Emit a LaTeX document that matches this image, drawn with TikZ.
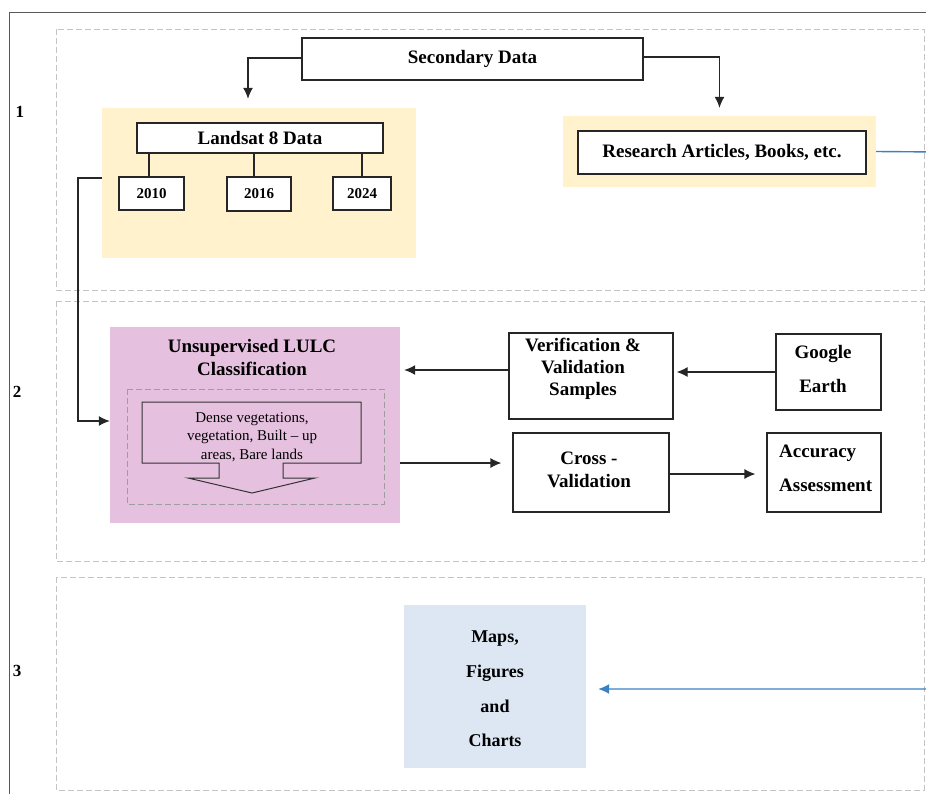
\documentclass[tikz,border=0pt]{standalone}
\usepackage{fontspec}
\setmainfont{Liberation Serif}
\usetikzlibrary{arrows.meta,calc}
\definecolor{ybg}{HTML}{FFF2CC}
\definecolor{pbg}{HTML}{E6C1DF}
\definecolor{bbg}{HTML}{DDE7F3}
\definecolor{dgray}{HTML}{C4C4C4}
\definecolor{igray}{HTML}{9E9E9E}
\definecolor{lblue}{HTML}{3A80C4}
\begin{document}
\begin{tikzpicture}[x=1pt,y=-1pt,
  box/.style={draw=black!85, line width=1.2pt, inner sep=0pt},
  bg/.style={inner sep=0pt, draw=none},
  bigtxt/.style={font=\fontsize{19}{23}\selectfont\bfseries, align=center, inner sep=0pt},
  yeartxt/.style={font=\fontsize{15}{18}\selectfont\bfseries},
  sect/.style={draw=dgray, line width=1pt, dash pattern=on 6pt off 3pt},
  arr/.style={draw=black!85, line width=1.2pt, -{Latex[length=11pt,width=10pt]}},
  ln/.style={draw=black!85, line width=1.2pt}]
\useasboundingbox (0,0) rectangle (926,793);
\clip (0,0) rectangle (926,793);
% outer frame
\draw[draw=black!65, line width=1pt] (9,800) -- (9,12) -- (935,12);
% section frames
\draw[sect] (56,29) rectangle (924,290);
\draw[sect] (56,301) rectangle (924,561);
\draw[sect] (56,577) rectangle (924,790);
% section labels
\node[font=\fontsize{17}{20}\selectfont\bfseries] (l1) at (20,112) {1};
\node[font=\fontsize{17}{20}\selectfont\bfseries] (l2) at (17,392) {2};
\node[font=\fontsize{17}{20}\selectfont\bfseries] (l3) at (17,671) {3};

% section 1
\node[box, fill=white, minimum width=341pt, minimum height=42pt, bigtxt] (sec) at (472.5,59) {Secondary Data};
\node[bg, fill=ybg, minimum width=314pt, minimum height=150pt] (lsbg) at (259,183) {};
\node[box, fill=white, minimum width=246pt, minimum height=30pt, bigtxt] (ls) at (260,138) {Landsat 8 Data};
\node[box, fill=white, minimum width=65pt, minimum height=33pt, yeartxt] (y1) at (151.5,193.5) {2010};
\node[box, fill=white, minimum width=64pt, minimum height=34pt, yeartxt] (y2) at (259,194) {2016};
\node[box, fill=white, minimum width=58pt, minimum height=33pt, yeartxt] (y3) at (362,193.5) {2024};
\draw[ln] ([xshift=-2.5pt]y1.north |- ls.south) -- ([xshift=-2.5pt]y1.north);
\draw[ln] ([xshift=-5pt]y2.north |- ls.south) -- ([xshift=-5pt]y2.north);
\draw[ln] (y3.north |- ls.south) -- (y3.north);
\node[bg, fill=ybg, minimum width=313pt, minimum height=71pt] (resbg) at (719.5,151.5) {};
\node[box, fill=white, minimum width=288pt, minimum height=43pt, bigtxt] (res) at (722,152.5) {Research Articles, Books, etc.};
\draw[arr, shorten >=9pt] ([yshift=1pt]sec.west) -| ([xshift=-11pt]lsbg.north);
\draw[arr, shorten >=8pt] ([yshift=2pt]sec.east) -| (resbg.north);

% section 2
\node[bg, fill=pbg, minimum width=290pt, minimum height=196pt] (pink) at (255,425) {};
\node[bigtxt] (ptitle) at (252,357) {Unsupervised LULC\\Classification};
\draw[draw=igray, line width=1pt, dash pattern=on 6pt off 3pt] (127,389) rectangle (384,504);
\draw[draw=black!80, line width=1pt]
  (142,402) -- (361,402) -- (361,463) -- (283,463) -- (283,478) -- (315,478)
  -- (252,493) -- (188,478) -- (219,478) -- (219,463) -- (142,463) -- cycle;
\node[font=\fontsize{15}{18.5}\selectfont, align=center, inner sep=0pt] (cls) at (252,437)
  {Dense vegetations,\\vegetation, Built -- up\\areas, Bare lands};

\node[box, minimum width=164pt, minimum height=86pt] (ver) at (591,376) {};
\node[bigtxt, font=\fontsize{19}{22}\selectfont\bfseries] (vertxt) at (583,369) {Verification \&\\Validation\\Samples};
\node[box, minimum width=105pt, minimum height=76pt] (ge) at (828.5,372) {};
\node[bigtxt, font=\fontsize{19}{34}\selectfont\bfseries] (getxt) at (823,369) {Google\\Earth};
\node[box, minimum width=156pt, minimum height=79pt] (cv) at (591,472.5) {};
\node[bigtxt, font=\fontsize{19}{23}\selectfont\bfseries] (cvtxt) at (589,469.5) {Cross -\\Validation};
\node[box, minimum width=114pt, minimum height=79pt] (acc) at (824,472.5) {};
\node[bigtxt, font=\fontsize{19}{34}\selectfont\bfseries, align=left, anchor=west] (acctxt) at (779,468) {Accuracy\\Assessment};

\draw[arr] ([yshift=6pt]ver.west) -- ([yshift=6pt,xshift=4pt]ver.west -| pink.east);
\draw[arr, shorten >=3pt] (ge.west) -- (ge.west -| ver.east);
\draw[arr, shorten >=11pt] ([yshift=-38pt]pink.east) -- ([yshift=-38pt]pink.east -| cv.west);
\draw[arr, shorten >=11pt] ([yshift=-1.5pt]cv.east) -- ([yshift=-1.5pt]cv.east -| acc.west);
\coordinate (bend) at (78,178);
\draw[arr] (lsbg.west |- bend) -- (bend) |- ([yshift=4pt]pink.west);

% section 3
\node[bg, fill=bbg, minimum width=182pt, minimum height=163pt] (maps) at (495,686.5) {};
\node[bigtxt, font=\fontsize{18}{34.7}\selectfont\bfseries] (mtxt) at (495,689) {Maps,\\Figures\\and\\Charts};
\draw[draw=lblue, line width=1.4pt, -{Latex[length=11pt,width=10pt]}, shorten >=12pt]
  (resbg.east) -- (940,152) -- (940,689) -- (maps.east |- 0,689);
\end{tikzpicture}
\end{document}
